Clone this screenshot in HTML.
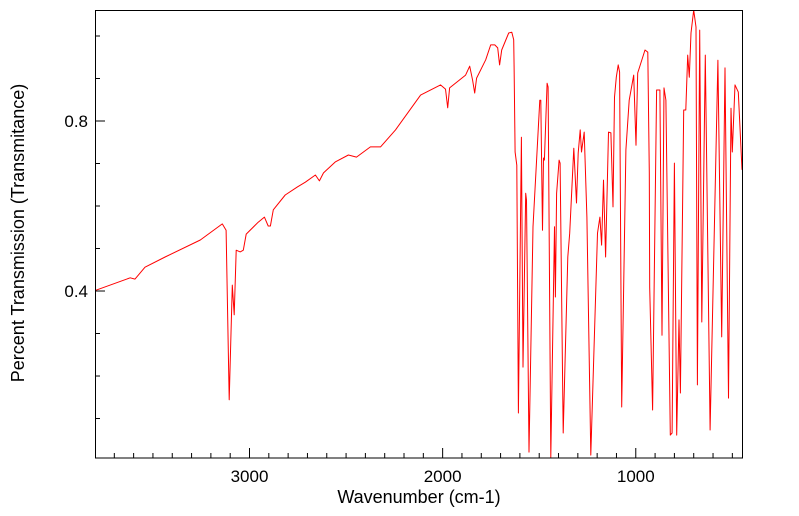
<!DOCTYPE html>
<html><head><meta charset="utf-8"><style>
body{margin:0;background:#fff;}
svg{display:block;font-family:"Liberation Sans",sans-serif;}
</style></head><body>
<svg id="chart" width="799" height="516" viewBox="0 0 799 516">
<defs><clipPath id="pc"><rect x="95" y="10" width="648" height="448"/></clipPath></defs>
<rect x="0" y="0" width="799" height="516" fill="#fff"/>
<g id="ticks"></g>
<path id="series" clip-path="url(#pc)" fill="none" stroke="#ff0000" stroke-width="1" stroke-linejoin="round"/>
<rect x="95.5" y="10.5" width="647" height="447.5" fill="none" stroke="#000" stroke-width="1"/>
<text x="419" y="503" text-anchor="middle" font-size="18">Wavenumber (cm-1)</text>
<text transform="translate(24,233) rotate(-90)" text-anchor="middle" font-size="18">Percent Transmission (Transmitance)</text>
</svg>
<script>
const wavenumbers = [3795,3618,3593,3541,3437,3255,3141,3121,3105,3089,3079,3069,3048,3032,3017,2955,2923,2903,2892,2877,2815,2752,2711,2659,2638,2617,2555,2488,2446,2374,2322,2244,2114,2011,1985,1974,1964,1881,1860,1845,1834,1824,1777,1751,1730,1715,1705,1694,1658,1642,1632,
1630,1625,1616,1608,1592,1584,1570,1566,1553,1532,1497,1492,1483,1478,1473,1459,1454,1440,1421,1416,1410,1397,1392,1376,1352,1342,1321,1307,1298,1288,1281,1267,1253,1233,1198,1186,1177,1167,1156,1141,1129,1118,1110,1101,1091,1084,1073,1051,1034,1011,999,990,952,938,930,928,913,892,875,864,854,844,821,812,800,788,776,769,752,741,731,723,714,700,688,681,669,658,640,615,575,555,538,520,507,500,486,469,450];
const transmittance = [0.402,0.431,0.428,0.456,0.480,0.520,0.558,0.543,0.144,0.414,0.344,0.496,0.492,0.496,0.534,0.562,0.574,0.553,0.553,0.591,0.626,0.645,0.656,0.673,0.659,0.678,0.704,0.720,0.715,0.739,0.739,0.779,0.861,0.885,0.875,0.831,0.878,0.908,0.929,0.896,0.866,0.901,0.944,0.979,0.979,0.972,0.932,0.967,1.007,1.009,0.991,
0.927,0.727,0.696,0.113,0.762,0.221,0.630,0.614,0.021,0.551,0.849,0.849,0.543,0.713,0.708,0.889,0.880,0.009,0.551,0.386,0.630,0.708,0.701,0.066,0.480,0.536,0.736,0.607,0.725,0.779,0.727,0.774,0.574,0.014,0.536,0.574,0.508,0.661,0.480,0.774,0.772,0.598,0.856,0.903,0.932,0.915,0.127,0.732,0.849,0.908,0.743,0.913,0.967,0.962,0.678,0.409,0.120,0.873,0.873,0.296,0.878,0.849,0.061,0.066,0.701,0.061,0.332,0.160,0.826,0.826,0.955,0.903,1.007,1.061,1.021,0.179,1.014,0.327,0.955,0.073,0.943,0.292,0.925,0.148,0.830,0.727,0.885,0.868,0.685];
const xTickLabels = [3000,2000,1000];
const yTickLabels = [0.4,0.8];

const X0=95,X1=742,Y0=10,Y1=458,WMAX=3800,WMIN=450,TMAX=1.0612,TMIN=0.0071;
function xs(w){return X0+(WMAX-w)/(WMAX-WMIN)*(X1-X0);}
function ys(t){return Y1-(t-TMIN)/(TMAX-TMIN)*(Y1-Y0);}

const path=document.getElementById('series');
let d='';
for(let i=0;i<wavenumbers.length;i++){d+=(i?'L':'M')+xs(wavenumbers[i]).toFixed(1)+','+ys(transmittance[i]).toFixed(1);}
path.setAttribute('d',d);

const g=document.getElementById('ticks');
const NS='http://www.w3.org/2000/svg';
for(let w=500;w<=3700;w+=100){
  const major=xTickLabels.includes(w);
  const l=document.createElementNS(NS,'line');
  const x=xs(w);
  l.setAttribute('x1',x);l.setAttribute('x2',x);l.setAttribute('y1',Y1);l.setAttribute('y2',Y1-(major?10:5));
  l.setAttribute('stroke','#000');
  
  
  g.appendChild(l);
}
xTickLabels.forEach(v=>{
  const t=document.createElementNS(NS,'text');
  t.setAttribute('x',xs(v));t.setAttribute('y',482);t.setAttribute('text-anchor','middle');t.setAttribute('font-size','17');
  t.textContent=v;
  
  
  g.appendChild(t);
});
for(let k=1;k<=10;k++){
  const v=k/10;
  const major=yTickLabels.some(a=>Math.abs(a-v)<1e-6);
  const y=ys(v);
  const l=document.createElementNS(NS,'line');
  l.setAttribute('x1',X0);l.setAttribute('x2',X0+(major?10:5));l.setAttribute('y1',y);l.setAttribute('y2',y);
  l.setAttribute('stroke','#000');
  
  
  g.appendChild(l);
}
yTickLabels.forEach(v=>{
  const t=document.createElementNS(NS,'text');
  t.setAttribute('x',88);t.setAttribute('y',ys(v)+6);t.setAttribute('text-anchor','end');t.setAttribute('font-size','17');
  t.textContent=v.toFixed(1);
  
  
  g.appendChild(t);
});
</script>
</body></html>
